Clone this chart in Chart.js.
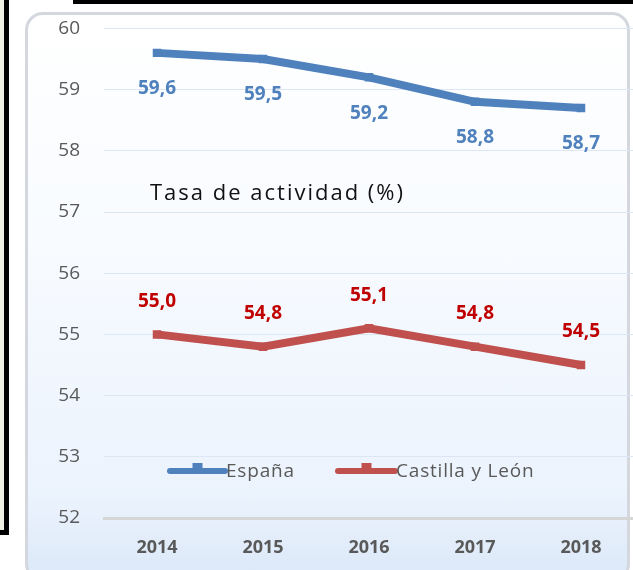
<!DOCTYPE html>
<html lang="es">
<head>
<meta charset="utf-8">
<script src="https://cdn.jsdelivr.net/npm/chart.js@4.4.1/dist/chart.umd.min.js"></script>
<style>
  html, body { margin: 0; padding: 0; background: #ffffff; overflow: hidden; }
  #panelIzq {
    position: absolute; left: 0; top: 0; width: 4px; height: 530px;
    background: #efefe2; border-right: 5px solid #000; border-bottom: 5px solid #000;
  }
  #lineaSup { position: absolute; left: 73px; top: 0; width: 560px; height: 4px; background: #000; }
  #tarjeta {
    position: absolute; left: 25px; top: 12px; width: 605px; height: 570px;
    border: 3px solid #d4d8de; border-radius: 18px; box-sizing: border-box;
    background: linear-gradient(to bottom, #ffffff 0%, #f8fbff 40%, #ebf3fd 85%, #dce8f8 100%);
  }
  #wrap { position: absolute; left: 0; top: -7px; width: 640px; height: 577px; }
</style>
</head>
<body>
<div id="panelIzq"></div>
<div id="lineaSup"></div>
<div id="tarjeta"></div>
<div id="wrap"><canvas id="grafico"></canvas></div>
<script>
// ── Datos ─────────────────────────────────────────────────────
const ANIOS = ["2014", "2015", "2016", "2017", "2018"];
const ESPANA = [59.6, 59.5, 59.2, 58.8, 58.7];
const CASTILLA_LEON = [55.0, 54.8, 55.1, 54.8, 54.5];
const Y_MIN = 52;
const Y_MAX = 60;

const AZUL = "#4f81bd";
const ROJO = "#c0504d";
const FUENTE = "'Open Sans', Lato, sans-serif";

function fmt(v) {
  return v.toFixed(1).replace(".", ",");
}

// Etiquetas de valores, título y leyenda dibujados dentro del área
const extrasPlugin = {
  id: "extras",
  afterDatasetsDraw(chart) {
    const ctx = chart.ctx;
    const dy = 7; // el canvas empieza 7px por encima de la ventana
    ctx.save();
    ctx.textAlign = "center";
    ctx.textBaseline = "middle";
    ctx.font = "bold 19px " + FUENTE;

    // España: etiqueta debajo del punto
    chart.getDatasetMeta(0).data.forEach((p, i) => {
      ctx.fillStyle = AZUL;
      ctx.fillText(fmt(ESPANA[i]), p.x, p.y + 36);
    });
    // Castilla y León: etiqueta encima
    chart.getDatasetMeta(1).data.forEach((p, i) => {
      ctx.fillStyle = "#c00000";
      ctx.fillText(fmt(CASTILLA_LEON[i]), p.x, p.y - 33);
    });

    // Título
    ctx.textAlign = "left";
    ctx.fillStyle = "#111";
    ctx.font = "22px " + FUENTE;
    ctx.letterSpacing = "2px";
    ctx.fillText("Tasa de actividad (%)", 150, 194 + dy);

    // Leyenda
    const items = [
      { txt: "España", color: AZUL, x0: 170, x1: 225 },
      { txt: "Castilla y León", color: ROJO, x0: 338, x1: 395 },
    ];
    const ly = 471 + dy;
    ctx.font = "19px " + FUENTE;
    ctx.letterSpacing = "0.8px";
    items.forEach((it) => {
      ctx.strokeStyle = it.color;
      ctx.lineWidth = 6;
      ctx.lineCap = "round";
      ctx.beginPath();
      ctx.moveTo(it.x0, ly);
      ctx.lineTo(it.x1, ly);
      ctx.stroke();
      ctx.fillStyle = it.color;
      const mx = (it.x0 + it.x1) / 2;
      ctx.fillRect(mx - 5, ly - 8, 10, 11);
      ctx.fillStyle = "#595959";
      ctx.fillText(it.txt, it.x1 + 1, ly + 1);
    });
    ctx.restore();
  },
};

new Chart(document.getElementById("grafico").getContext("2d"), {
  type: "line",
  data: {
    labels: ANIOS,
    datasets: [
      {
        label: "España",
        data: ESPANA,
        borderColor: AZUL,
        backgroundColor: AZUL,
        borderWidth: 8,
        pointStyle: "rect",
        pointRadius: 6,
        pointBorderWidth: 0,
        tension: 0,
      },
      {
        label: "Castilla y León",
        data: CASTILLA_LEON,
        borderColor: ROJO,
        backgroundColor: ROJO,
        borderWidth: 8,
        pointStyle: "rect",
        pointRadius: 6,
        pointBorderWidth: 0,
        tension: 0,
      },
    ],
  },
  options: {
    responsive: true,
    maintainAspectRatio: false,
    animation: false,
    layout: { padding: { top: 14, right: 0, bottom: 0, left: 0 } },
    plugins: {
      legend: { display: false },
      tooltip: { enabled: false },
    },
    scales: {
      x: {
        offset: true,
        afterFit: (s) => { s.height = 52; },
        grid: { display: false, drawTicks: false },
        border: { color: "#d6d6d6", width: 3 },
        ticks: {
          color: "#595959",
          padding: 19,
          font: { family: FUENTE, size: 18, weight: "bold" },
        },
      },
      y: {
        min: Y_MIN,
        max: Y_MAX,
        afterFit: (s) => { s.width = 104; },
        grid: { color: "#dde7f3", lineWidth: 1, drawTicks: false },
        border: { display: false },
        ticks: {
          stepSize: 1,
          color: "#595959",
          padding: 24,
          font: { family: FUENTE, size: 19 },
        },
      },
    },
  },
  plugins: [extrasPlugin],
});
</script>
</body>
</html>
